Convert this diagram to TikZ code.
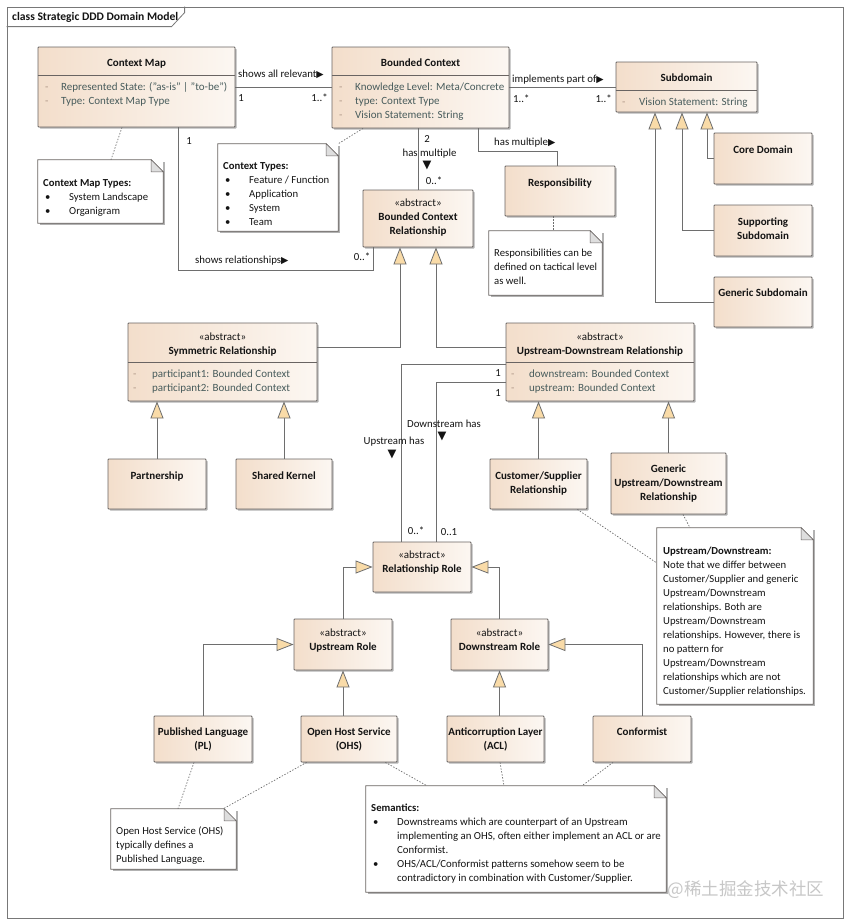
\documentclass[tikz,border=0pt]{standalone}
\usepackage{fontspec}
\setmainfont{Carlito}
\newfontfamily\symf{DejaVu Sans}
\newfontfamily\cjkf{Noto Sans CJK SC}
\usetikzlibrary{arrows.meta,shadows}
\definecolor{lineg}{RGB}{110,110,110}
\definecolor{boxline}{RGB}{105,100,98}
\definecolor{framec}{RGB}{120,120,120}
\definecolor{peachL}{RGB}{243,222,203}
\definecolor{peachR}{RGB}{252,247,242}
\definecolor{genfill}{RGB}{249,219,168}
\definecolor{attrc}{RGB}{72,92,92}
\definecolor{dashc}{RGB}{175,150,135}
\definecolor{foldc}{RGB}{222,222,222}
\definecolor{txtc}{RGB}{20,20,20}
\newcommand\ctfont{\fontsize{11}{14}\selectfont}
\newcommand\ntfont{\fontsize{10.7}{14}\selectfont}
\newcommand\lbfont{\fontsize{10.8}{14}\selectfont}
\newcommand\arrfont{\symf\fontsize{11.5}{11.5}\selectfont}
\newcommand\rarr{{\symf\fontsize{9.5}{9.5}\selectfont ▶}}
\newcommand\ubox[5]{\node[cls, minimum width={#4-#2}, minimum height={#5-#3}] (#1) at ({(#2+#4)/2},{(#3+#5)/2}) {};}
\newcommand\unote[5]{%
  \node[notebg, minimum width={#4-#2}, minimum height={#5-#3}] (#1) at ({(#2+#4)/2},{(#3+#5)/2}) {};
  \draw[noteline] (#1.north west) -- ([xshift=-12]#1.north east) -- ([yshift=-12]#1.north east) -- (#1.south east) -- (#1.south west) -- cycle;
  \draw[noteline, fill=foldc, line width=0.5pt] ([xshift=-12]#1.north east) -- ([xshift=-12,yshift=-12]#1.north east) -- ([yshift=-12]#1.north east) -- cycle;}
\begin{document}
\begin{tikzpicture}[x=1pt,y=-1pt,
  cls/.style={draw=boxline, line width=0.8pt, left color=peachL, right color=peachR, inner sep=0pt, rounded corners=0.8pt,
    drop shadow={shadow xshift=1.6pt, shadow yshift=-1.6pt, opacity=0.3, fill=black}},
  notebg/.style={fill=white, inner sep=0pt, drop shadow={shadow xshift=1.6pt, shadow yshift=-1.6pt, opacity=0.3, fill=black}},
  noteline/.style={draw=boxline, line width=0.8pt, line join=miter},
  sepl/.style={draw=boxline, line width=0.7pt},
  ttl/.style={font=\ctfont\bfseries, align=center, anchor=north, inner sep=0pt, text=txtc},
  attr/.style={font=\ctfont, align=left, anchor=north west, inner sep=0pt, text=attrc},
  dsh/.style={attr, text=dashc},
  ntxt/.style={font=\ntfont, align=left, anchor=north west, inner sep=0pt, text=txtc},
  lbl/.style={font=\lbfont, inner sep=0pt, text=txtc},
  assoc/.style={draw=lineg, line width=0.8pt},
  gen/.style={assoc, -{Triangle[length=17pt,width=13pt,fill=genfill]}},
  dotl/.style={draw=lineg, line width=0.7pt, dash pattern=on 1.4pt off 1.6pt}
]
\fill[white] (0,0) rectangle (850,924);
\useasboundingbox (0,0) rectangle (850,924);

% frame
\node[draw=framec, line width=0.8pt, minimum width=836, minimum height=911, inner sep=0pt] (frame) at (425,462.5) {};
\draw[framec, line width=0.8pt] (frame.north west) ++(0,20) -- ++(165,0) -- ++(13,-14) -- ++(0,-6);
\node[lbl, font=\fontsize{11.6}{14}\selectfont\bfseries, anchor=west] (title) at (12,17) {class Strategic DDD Domain Model};

% ---------- class boxes
\ubox{cm}{38}{47}{235}{127}
\ubox{bc}{332}{47}{509}{128}
\ubox{sub}{616}{62}{757}{112}
\ubox{core}{714}{133}{812}{184}
\ubox{supp}{714}{205}{812}{256}
\ubox{gsub}{714}{277}{812}{327}
\ubox{bcr}{363}{190}{473}{247}
\ubox{resp}{505}{166}{615}{216}
\ubox{sym}{128}{323}{317}{401}
\ubox{ud}{506}{323}{694}{401}
\ubox{part}{108}{459}{206}{509}
\ubox{sk}{236}{459}{332}{509}
\ubox{cs}{490}{459}{587}{509}
\ubox{gud}{611}{453}{726}{514}
\ubox{rr}{373}{542}{471}{592}
\ubox{ur}{294}{619}{392}{670}
\ubox{dr}{451}{619}{548}{670}
\ubox{pl}{154}{716}{252}{762}
\ubox{ohs}{301}{716}{397}{762}
\ubox{acl}{447}{716}{544}{762}
\ubox{conf}{593}{716}{691}{762}

% ---------- notes
\unote{n1}{38}{160}{163}{223}
\unote{n2}{218}{144}{338}{231}
\unote{n3}{489}{231}{602}{295}
\unote{n4}{657}{528}{813}{704}
\unote{n5}{111}{809}{236}{869}
\unote{n6}{366}{786}{666}{892}

% ---------- class texts
\node[ttl] (cm-t) at (136.5,56.7) {\strut Context Map};
\draw[sepl] ([yshift=-29]cm.north west) -- ([yshift=-29]cm.north east);
\node[dsh] (cm-d) at (45,80.7) {\strut-\\-};
\node[attr] (cm-a) at (61,80.7) {\strut Represented State: ("as-is" | "to-be")\\Type: Context Map Type};

\node[ttl] (bc-t) at (420.5,56.7) {\strut Bounded Context};
\draw[sepl] ([yshift=-29]bc.north west) -- ([yshift=-29]bc.north east);
\node[dsh] (bc-d) at (339,80.7) {\strut-\\-\\-};
\node[attr] (bc-a) at (355,80.7) {\strut Knowledge Level: Meta/Concrete\\type: Context Type\\Vision Statement: String};

\node[ttl] (sub-t) at (686.5,71.7) {\strut Subdomain};
\draw[sepl] ([yshift=-29]sub.north west) -- ([yshift=-29]sub.north east);
\node[dsh] (sub-d) at (622,95.7) {\strut-};
\node[attr] (sub-a) at (639,95.7) {\strut Vision Statement: String};

\node[ttl] (core-t) at (763,143.7) {\strut Core Domain};
\node[ttl] (supp-t) at (763,215.7) {\strut Supporting\\Subdomain};
\node[ttl] (gsub-t) at (763,286.7) {\strut Generic Subdomain};

\node[ttl] (bcr-t) at (418,196.7) {\strut{\mdseries «abstract»}\\Bounded Context\\Relationship};
\node[ttl] (resp-t) at (560,176.7) {\strut Responsibility};

\node[ttl] (sym-t) at (222.5,330.7) {\strut{\mdseries «abstract»}\\Symmetric Relationship};
\draw[sepl] ([yshift=-40]sym.north west) -- ([yshift=-40]sym.north east);
\node[dsh] (sym-d) at (133,367.7) {\strut-\\-};
\node[attr] (sym-a) at (152,367.7) {\strut participant1: Bounded Context\\participant2: Bounded Context};

\node[ttl] (ud-t) at (600,330.7) {\strut{\mdseries «abstract»}\\Upstream-Downstream Relationship};
\draw[sepl] ([yshift=-40]ud.north west) -- ([yshift=-40]ud.north east);
\node[dsh] (ud-d) at (511,367.7) {\strut-\\-};
\node[attr] (ud-a) at (529,367.7) {\strut downstream: Bounded Context\\upstream: Bounded Context};

\node[ttl] (part-t) at (157,469.7) {\strut Partnership};
\node[ttl] (sk-t) at (284,469.7) {\strut Shared Kernel};
\node[ttl] (cs-t) at (538.5,469.7) {\strut Customer/Supplier\\Relationship};
\node[ttl] (gud-t) at (668.5,462.7) {\strut Generic\\Upstream/Downstream\\Relationship};

\node[ttl] (rr-t) at (422,548.7) {\strut{\mdseries «abstract»}\\Relationship Role};
\node[ttl] (ur-t) at (343,626.7) {\strut{\mdseries «abstract»}\\Upstream Role};
\node[ttl] (dr-t) at (499.5,626.7) {\strut{\mdseries «abstract»}\\Downstream Role};

\node[ttl] (pl-t) at (203,725.7) {\strut Published Language\\(PL)};
\node[ttl] (ohs-t) at (349,725.7) {\strut Open Host Service\\(OHS)};
\node[ttl] (acl-t) at (495.5,725.7) {\strut Anticorruption Layer\\(ACL)};
\node[ttl] (conf-t) at (642,725.7) {\strut Conformist};

% ---------- note texts
\node[ntxt] (n1-h) at (43,176.7) {\strut\textbf{Context Map Types:}};
\node[ntxt] (n1-b) at (45,190.7) {\strut•\\•};
\node[ntxt] (n1-x) at (69,190.7) {\strut System Landscape\\Organigram};

\node[ntxt] (n2-h) at (223,159.7) {\strut\textbf{Context Types:}};
\node[ntxt] (n2-b) at (225,173.7) {\strut•\\•\\•\\•};
\node[ntxt] (n2-x) at (249,173.7) {\strut Feature / Function\\Application\\System\\Team};

\node[ntxt] (n3-x) at (494,246.7) {\strut Responsibilities can be\\defined on tactical level\\as well.};

\node[ntxt] (n4-x) at (663,544.7) {\strut\textbf{Upstream/Downstream:}\\Note that we differ between\\Customer/Supplier and generic\\Upstream/Downstream\\relationships. Both are\\Upstream/Downstream\\relationships. However, there is\\no pattern for\\Upstream/Downstream\\relationships which are not\\Customer/Supplier relationships.};

\node[ntxt] (n5-x) at (116,824.7) {\strut Open Host Service (OHS)\\typically defines a\\Published Language.};

\node[ntxt] (n6-h) at (371,801.7) {\strut\textbf{Semantics:}};
\node[ntxt] (n6-b1) at (373,815.7) {\strut•};
\node[ntxt] (n6-b2) at (373,857.7) {\strut•};
\node[ntxt, font=\fontsize{10.8}{14}\selectfont] (n6-x) at (397,815.7) {\strut Downstreams which are counterpart of an Upstream\\implementing an OHS, often either implement an ACL or are\\Conformist.\\OHS/ACL/Conformist patterns somehow seem to be\\contradictory in combination with Customer/Supplier.};

% ---------- associations
\draw[assoc] (cm.east) -- (cm.east -| bc.west);
\draw[assoc] (bc.east) -- (bc.east -| sub.west);
\draw[assoc] (bc.south -| bcr.north) -- (bcr.north);
\draw[assoc] ([xshift=57.5]bc.south) -- ++(0,23) -| ([xshift=-3]resp.north);
\draw[assoc] ([xshift=41.5]cm.south) -- ++(0,143) -| ([xshift=-45]bcr.south);
\draw[assoc] ([yshift=-2]ud.west) -| ([xshift=-21]rr.north);
\draw[assoc] ([yshift=-20]ud.west) -| ([xshift=14]rr.north);

% ---------- generalizations
\draw[gen] (core.west) -| ([xshift=20.5]sub.south);
\draw[gen] (supp.west) -| ([xshift=-4.5]sub.south);
\draw[gen] (gsub.west) -| ([xshift=-31.5]sub.south);
\draw[gen] ([yshift=15]sym.east) -| ([xshift=-18]bcr.south);
\draw[gen] ([yshift=15]ud.west) -| ([xshift=18]bcr.south);
\draw[gen] (part.north) -- (part.north |- sym.south);
\draw[gen] (sk.north) -- (sk.north |- sym.south);
\draw[gen] (cs.north) -- (cs.north |- ud.south);
\draw[gen] (gud.north) -- (gud.north |- ud.south);
\draw[gen] (ur.north) |- (rr.west);
\draw[gen] (dr.north) |- (rr.east);
\draw[gen] (pl.north) |- (ur.west);
\draw[gen] (ur.south |- ohs.north) -- (ur.south);
\draw[gen] (dr.south |- acl.north) -- (dr.south);
\draw[gen] (conf.north) |- (dr.east);

% ---------- note links
\draw[dotl] ([xshift=-14.5]cm.south) -- ([xshift=10.5]n1.north);
\draw[dotl] ([xshift=-57.5]bc.south) -- (n2.north east);
\draw[dotl] ([xshift=-7]resp.south) -- ([xshift=7.5]n3.north);
\draw[dotl] ([xshift=-10]cs.south east) -- ([yshift=53]n4.west);
\draw[dotl] ([xshift=14.5]gud.south) -- ([xshift=-45]n4.north);
\draw[dotl] ([xshift=-9]pl.south) -- ([xshift=4.5]n5.north);
\draw[dotl] ([xshift=6]ohs.south west) -- ([xshift=-13]n5.north east);
\draw[dotl] ([xshift=-12]ohs.south east) -- ([xshift=-89]n6.north);
\draw[dotl] ([xshift=4.5]acl.south) -- ([xshift=-12]n6.north);
\draw[dotl] ([xshift=-29]conf.south) -- ([xshift=66]n6.north);

% ---------- connector labels
\node[lbl, anchor=west] (l1) at (238,74) {shows all relevant\rarr};
\node[lbl] (l1a) at (241,98) {1};
\node[lbl, anchor=east] (l1b) at (328,98) {1..*};
\node[lbl, anchor=west] (l2) at (512,80) {implements part of\rarr};
\node[lbl, anchor=west] (l2a) at (513,99) {1..*};
\node[lbl, anchor=east] (l2b) at (612,99) {1..*};
\node[lbl] (l3a) at (427,139) {2};
\node[lbl] (l3) at (429.5,154) {has multiple};
\node[lbl, font=\arrfont] (l3m) at (427,166) {▼};
\node[lbl] (l3b) at (434,181) {0..*};
\node[lbl, anchor=west] (l4) at (494,143) {has multiple\rarr};
\node[lbl] (l5a) at (189,141) {1};
\node[lbl, anchor=west] (l5) at (195,261) {shows relationships\rarr};
\node[lbl] (l5b) at (362,257) {0..*};
\node[lbl] (l6a) at (498,373) {1};
\node[lbl] (l7a) at (498,393) {1};
\node[lbl] (l6) at (394,442) {Upstream has};
\node[lbl, font=\arrfont] (l6m) at (392,455) {▼};
\node[lbl] (l7) at (444,424) {Downstream has};
\node[lbl, font=\arrfont] (l7m) at (442,437) {▼};
\node[lbl] (l6b) at (416,531) {0..*};
\node[lbl] (l7b) at (449,532) {0..1};

% watermark
\node[font=\cjkf\fontsize{17.5}{17.5}\selectfont, text=black!22, inner sep=0pt] (wm) at (746,890) {@稀土掘金技术社区};
\end{tikzpicture}
\end{document}
